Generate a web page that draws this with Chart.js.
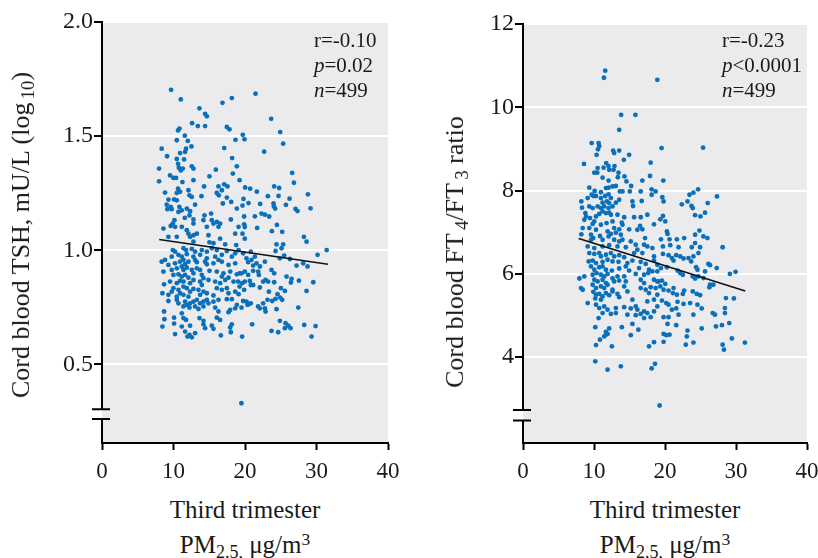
<!DOCTYPE html>
<html><head><meta charset="utf-8">
<script src="https://cdn.jsdelivr.net/npm/chart.js@4.4.0/dist/chart.umd.min.js"></script>
<style>
html,body{margin:0;padding:0;background:#fff;overflow:hidden;width:818px;height:558px;}
#wrap{position:relative;width:818px;height:558px;overflow:hidden;}
canvas{position:absolute;top:0;}
.t{position:absolute;font-family:"Liberation Serif","Times New Roman",serif;color:#1a1a1a;white-space:nowrap;}
.sub{font-size:0.72em;position:relative;top:0.28em;line-height:0;}
.sup{font-size:0.7em;position:relative;top:-0.45em;line-height:0;}
.gap{margin-left:0.18em;}
.ytitle{font-size:26px;line-height:26px;transform:translate(-50%,-50%) rotate(-90deg);}
.xtitle{font-size:25px;line-height:35px;text-align:center;transform:translateX(-50%);}
.ann{font-size:21px;line-height:25px;}
</style></head>
<body><div id="wrap">
<canvas id="c1" width="409" height="490" style="left:0;width:409px;height:490px"></canvas>
<canvas id="c2" width="425" height="490" style="left:407px;width:425px;height:490px"></canvas>
<div class="t ytitle" style="left:21px;top:235px">Cord blood TSH, mU/L (log<span class="sub gap">10</span>)</div>
<div class="t ytitle" style="left:455px;top:252px">Cord blood FT<span class="sub gap">4</span>/FT<span class="sub gap">3</span> ratio</div>
<div class="t xtitle" style="left:245px;top:492px">Third trimester<br>PM<span class="sub">2.5,</span> μg/m<span class="sup">3</span></div>
<div class="t xtitle" style="left:665px;top:492px">Third trimester<br>PM<span class="sub">2.5,</span> μg/m<span class="sup">3</span></div>
<div class="t ann" style="left:314px;top:28px">r=-0.10<br><i>p</i>=0.02<br><i>n</i>=499</div>
<div class="t ann" style="left:722px;top:28px">r=-0.23<br><i>p</i>&lt;0.0001<br><i>n</i>=499</div>
</div>
<script>
// ---- data (x = third trimester PM2.5, y = outcome) ----
const xTicks = [0, 10, 20, 30, 40];
const tshTicks = [0.5, 1.0, 1.5, 2.0];
const ratioTicks = [4, 6, 8, 10, 12];
const tshFitX = [8, 31.6];
const tshFitY = [1.047, 0.939];
const ratioFitX = [7.84, 31.3];
const ratioFitY = [6.85, 5.59];
const tshPoints = [
[9.66,1.703],[11.02,1.661],[13.63,1.622],[16.85,1.646],[18.16,1.667],[14.42,1.598],[14.66,1.587],[12.6,1.557],[13.4,1.544],[14.42,1.544],
[10.83,1.533],[10.64,1.525],[17.46,1.54],[17.83,1.53],[11.58,1.502],[18.67,1.484],[10.46,1.482],[12.0,1.479],[12.51,1.455],[8.35,1.445],
[9.1,1.412],[10.92,1.426],[11.76,1.445],[11.62,1.431],[17.09,1.448],[18.2,1.404],[10.46,1.4],[11.48,1.398],[10.64,1.379],[10.74,1.362],
[11.02,1.35],[11.3,1.358],[12.56,1.368],[12.79,1.358],[7.98,1.358],[9.52,1.328],[9.99,1.317],[10.36,1.317],[15.92,1.353],[18.86,1.368],
[18.3,1.336],[15.03,1.324],[7.98,1.302],[11.25,1.299],[12.79,1.307],[12.09,1.263],[10.64,1.27],[10.92,1.256],[14.28,1.28],[16.29,1.28],
[16.76,1.263],[16.06,1.251],[17.09,1.289],[17.55,1.28],[19.24,1.307],[8.82,1.253],[10.46,1.251],[9.29,1.222],[10.08,1.223],[10.46,1.219],
[12.23,1.241],[12.56,1.234],[13.91,1.237],[16.34,1.241],[17.46,1.231],[18.07,1.212],[9.05,1.2],[9.15,1.18],[9.61,1.19],[9.75,1.18],
[10.83,1.19],[11.16,1.175],[11.86,1.183],[12.32,1.171],[13.02,1.2],[16.9,1.205],[18.86,1.183],[10.69,1.168],[11.58,1.142],[12.23,1.153],
[12.79,1.135],[14.33,1.153],[15.26,1.161],[10.13,1.132],[9.9,1.117],[8.59,1.095],[9.61,1.107],[10.22,1.103],[11.16,1.103],[11.86,1.088],
[12.79,1.117],[14.19,1.132],[15.36,1.132],[15.59,1.117],[16.06,1.124],[16.52,1.117],[16.29,1.103],[14.66,1.103],[18.02,1.135],[19.1,1.103],
[18.63,1.073],[9.29,1.059],[10.46,1.059],[12.09,1.073],[12.32,1.059],[12.79,1.066],[13.26,1.073],[14.89,1.066],[16.52,1.051],
[21.47,1.686],[23.66,1.576],[19.69,1.506],[19.93,1.486],[24.92,1.518],[25.34,1.467],[22.68,1.432],[26.6,1.339],[26.84,1.296],[20.02,1.275],
[20.72,1.27],[21.66,1.257],[24.08,1.28],[24.78,1.273],[23.2,1.237],[24.69,1.238],[26.23,1.226],[28.8,1.245],[19.79,1.225],[19.65,1.196],
[20.49,1.207],[22.12,1.203],[23.99,1.205],[24.04,1.193],[24.22,1.183],[25.72,1.199],[27.07,1.181],[27.35,1.172],[29.17,1.184],[22.31,1.161],
[22.78,1.156],[23.38,1.148],[19.88,1.148],[21.38,1.149],[19.88,1.114],[19.97,1.102],[21.7,1.098],[24.46,1.111],[19.65,1.073],[23.76,1.084],
[25.2,1.081],[28.24,1.059],[19.97,1.051],
[12.79,1.038],[15.03,1.035],[15.59,1.031],[17.23,1.026],[18.77,1.023],[9.9,1.001],[10.22,0.994],[11.39,1.009],[11.76,1.001],[12.56,1.006],
[13.02,0.994],[13.96,1.001],[14.66,0.994],[15.36,1.009],[16.06,1.001],[17.46,0.997],[18.63,0.987],[9.75,0.972],[10.69,0.98],[11.16,0.972],
[11.86,0.983],[12.79,0.972],[13.72,0.98],[14.66,0.965],[15.83,0.972],[16.76,0.98],[18.16,0.972],[19.1,1.001],[8.35,0.95],[8.82,0.958],
[9.29,0.936],[10.22,0.943],[10.92,0.95],[11.39,0.958],[11.62,0.939],[12.09,0.95],[13.02,0.958],[13.26,0.948],[14.42,0.95],[14.66,0.939],
[15.59,0.943],[16.29,0.958],[16.76,0.95],[17.69,0.936],[18.63,0.943],[8.59,0.907],[9.75,0.914],[10.46,0.921],[11.16,0.929],[11.39,0.914],
[11.86,0.924],[12.56,0.914],[13.26,0.921],[13.72,0.914],[15.03,0.91],[16.06,0.907],[16.99,0.899],[17.93,0.907],[18.86,0.895],[9.99,0.892],
[10.69,0.895],[11.16,0.885],[11.62,0.892],[12.09,0.88],[12.79,0.899],[13.96,0.892],[14.19,0.878],[14.89,0.87],[16.76,0.885],[17.23,0.87],
[17.69,0.88],[19.24,0.899],[8.68,0.851],[9.52,0.863],[10.46,0.856],[10.92,0.866],[11.39,0.863],[12.32,0.856],[12.79,0.87],[13.72,0.863],
[13.96,0.848],[15.83,0.863],[16.52,0.856],[18.39,0.863],[9.99,0.834],[9.75,0.819],[10.69,0.827],[11.39,0.841],[11.86,0.834],[12.32,0.819],
[12.79,0.831],[13.49,0.827],[14.19,0.819],[16.06,0.834],[16.76,0.827],[17.46,0.834],[18.63,0.819],[19.24,0.841],[8.45,0.812],[9.29,0.805],
[10.46,0.797],[10.92,0.812],[11.39,0.805],[12.09,0.797],[13.72,0.805],[14.66,0.812],[15.59,0.802],[17.69,0.812],[19.1,0.808],[9.29,0.778],
[10.46,0.783],[10.69,0.768],[11.62,0.775],[11.86,0.761],[12.32,0.768],[12.79,0.775],[13.26,0.783],[13.72,0.768],[14.19,0.775],[14.66,0.783],
[14.89,0.768],[15.59,0.775],[16.29,0.783],[17.46,0.786],[18.16,0.786],[18.86,0.761],[11.39,0.754],[12.23,0.749],[13.02,0.754],[13.49,0.743],
[14.19,0.754],[15.83,0.749],[17.93,0.739],[18.63,0.746],[8.68,0.732],[11.16,0.724],[16.29,0.732],[17.69,0.729],[10.08,0.705],[11.39,0.703],
[11.76,0.695],[13.63,0.703],[14.19,0.691],[16.06,0.705],[16.52,0.695],[8.73,0.698],[10.08,0.679],[11.16,0.666],[12.32,0.67],[14.19,0.676],
[15.36,0.67],[15.59,0.656],[18.16,0.676],[17.93,0.662],[8.45,0.666],[14.42,0.659],[11.62,0.644],[13.02,0.637],[10.22,0.633],[11.95,0.622],
[12.56,0.619],[12.23,0.63],[16.62,0.627],[18.02,0.641],
[25.34,1.026],[24.41,1.026],[25.11,1.009],[24.27,0.997],[28.61,1.038],[19.74,0.987],[20.81,0.994],[20.21,0.965],[20.91,0.958],[21.38,0.972],
[20.44,0.948],[21.14,0.933],[21.61,0.943],[22.08,0.929],[22.78,0.95],[25.48,0.977],[24.88,0.965],[26.28,0.962],[27.21,0.933],[28.14,0.943],
[28.75,0.929],[30.15,0.98],[31.42,1.001],[19.51,0.899],[19.97,0.907],[20.44,0.892],[21.14,0.91],[21.84,0.907],[21.94,0.892],[23.71,0.914],
[24.08,0.899],[25.81,0.885],[26.51,0.875],[26.42,0.859],[27.54,0.867],[19.04,0.863],[19.6,0.856],[19.97,0.863],[20.67,0.866],[20.81,0.848],
[21.14,0.848],[22.08,0.837],[22.54,0.863],[22.87,0.87],[23.24,0.863],[24.08,0.86],[25.02,0.834],[25.58,0.822],[29.55,0.86],[28.61,0.822],
[19.88,0.827],[23.34,0.819],[24.55,0.808],[24.27,0.787],[24.92,0.793],[25.2,0.783],[23.8,0.778],[23.15,0.783],[22.54,0.768],[21.84,0.754],
[22.08,0.746],[22.78,0.746],[22.87,0.732],[19.74,0.778],[20.21,0.775],[20.53,0.764],[20.81,0.768],[20.35,0.761],[19.51,0.749],[24.41,0.742],
[27.45,0.749],[21.0,0.676],[24.88,0.691],[25.67,0.681],[26.05,0.67],[26.37,0.659],[25.58,0.659],[23.71,0.647],[24.64,0.641],[28.28,0.673],
[29.87,0.668],[29.31,0.622],[19.6,0.622],[19.5,0.33]
];
const ratioPoints = [
[11.58,10.88],[11.4,10.71],[18.92,10.66],[13.82,9.82],[15.83,9.82],[13.55,9.46],[9.67,9.14],[10.65,9.14],[10.74,9.07],[10.56,8.99],
[10.37,8.86],[12.7,8.96],[12.84,8.9],[13.55,8.96],[14.95,8.86],[14.2,8.74],[8.59,8.64],[11.72,8.66],[12.05,8.59],[11.35,8.55],
[10.51,8.54],[10.04,8.43],[10.46,8.43],[12.14,8.5],[12.75,8.5],[12.89,8.59],[17.98,8.67],[13.45,8.43],[11.21,8.31],[12.05,8.24],
[13.36,8.32],[14.29,8.34],[14.57,8.22],[16.81,8.24],[17.89,8.35],[15.23,8.11],[9.34,8.07],[10.09,7.99],[10.98,7.96],[11.68,8.06],
[12.05,8.07],[12.61,8.1],[13.08,8.11],[13.64,7.98],[14.01,7.98],[15.04,7.98],[16.58,7.98],[18.12,8.03],[18.68,7.98],[9.95,7.87],
[10.28,7.87],[9.67,7.9],[10.98,7.82],[11.58,7.87],[12.05,7.91],[12.38,7.82],[8.22,7.74],[9.11,7.82],[11.21,7.71],[11.82,7.74],
[12.14,7.7],[13.08,7.71],[13.55,7.78],[15.41,7.74],[16.72,7.75],[18.12,7.9],[8.31,7.59],[9.34,7.62],[9.81,7.58],[10.51,7.62],
[10.98,7.58],[11.44,7.62],[12.05,7.58],[12.61,7.62],[15.5,7.63],[11.68,7.46],[12.14,7.47],[12.38,7.42],[11.21,7.5],[8.78,7.46],
[8.88,7.38],[10.74,7.44],[13.31,7.42],[10.28,7.38],[16.58,7.36],[17.51,7.42],[14.25,7.36],[15.65,7.36],[9.44,7.34],[8.64,7.3],
[10.04,7.26],[9.81,7.2],[12.61,7.26],[13.92,7.23],[14.01,7.18],[11.77,7.22],[18.45,7.19],[16.49,7.15],[16.81,7.07],[8.41,7.1],
[9.34,7.1],[10.28,7.06],[10.98,7.18],[12.84,7.1],[13.55,7.07],[14.95,7.07],[16.11,7.06],[8.22,6.95],[9.58,6.94],[10.84,6.91],
[11.91,7.02],[12.38,6.96],[13.08,6.99],[13.78,6.94],[17.19,6.86],[9.9,6.86],[12.05,6.9],
[19.52,9.02],[25.36,9.03],[19.76,8.24],[19.62,7.84],[19.8,7.74],[24.66,8.03],[24.0,7.95],[23.45,7.9],[27.32,7.86],[23.17,7.74],
[22.37,7.67],[23.73,7.63],[23.91,7.58],[26.02,7.7],[25.64,7.47],[24.24,7.41],[24.99,7.38],[19.71,7.39],[19.34,7.31],[20.04,7.26],
[20.27,7.02],[20.36,6.96],[24.85,7.04],[24.24,6.94],[25.41,6.9],[25.97,6.86],[22.7,6.86],[21.67,6.83],[20.64,6.83],[19.43,6.83],
[9.58,6.82],[11.21,6.82],[12.84,6.82],[13.55,6.78],[14.01,6.82],[15.18,6.78],[15.88,6.7],[17.05,6.7],[17.51,6.66],[9.11,6.66],
[10.04,6.62],[11.21,6.66],[12.14,6.69],[13.31,6.66],[14.48,6.64],[16.11,6.58],[18.22,6.62],[9.34,6.5],[10.04,6.48],[10.74,6.5],
[10.98,6.42],[11.68,6.46],[12.38,6.5],[12.84,6.42],[13.55,6.45],[14.25,6.4],[15.65,6.5],[16.81,6.5],[18.45,6.42],[9.25,6.3],
[9.81,6.32],[10.28,6.26],[11.21,6.29],[11.91,6.34],[12.61,6.3],[13.45,6.29],[14.71,6.26],[15.41,6.32],[16.58,6.29],[17.28,6.24],
[18.45,6.32],[18.92,6.22],[9.58,6.18],[10.04,6.1],[10.74,6.16],[11.21,6.18],[11.68,6.1],[12.52,6.08],[13.55,6.13],[14.48,6.18],
[14.95,6.08],[16.35,6.14],[17.75,6.1],[18.22,6.06],[18.92,6.06],[7.94,5.89],[8.64,5.94],[9.81,5.98],[10.37,6.02],[10.98,5.98],
[11.44,5.94],[11.91,6.0],[13.31,5.94],[14.25,5.94],[15.88,6.0],[17.05,5.98],[17.65,6.02],[8.17,5.66],[8.41,5.62],[10.04,5.86],
[10.51,5.82],[11.21,5.86],[11.68,5.78],[12.61,5.89],[12.84,5.82],[13.55,5.84],[14.48,5.82],[16.58,5.86],[17.05,5.78],[18.45,5.86],
[18.92,5.82],[9.81,5.74],[10.28,5.66],[10.98,5.7],[11.44,5.66],[11.91,5.74],[12.61,5.62],[14.25,5.7],[16.58,5.66],[17.28,5.62],
[17.98,5.68],[18.68,5.66],[9.9,5.57],[10.28,5.5],[10.74,5.52],[11.21,5.46],[11.68,5.54],[12.14,5.49],[12.61,5.58],[13.31,5.52],
[14.71,5.58],[17.75,5.54],[18.92,5.5],[10.18,5.41],[10.98,5.38],[9.11,5.3],[13.55,5.44],[15.41,5.38],[17.51,5.34],[18.45,5.38],
[10.28,5.26],[10.74,5.18],[11.44,5.22],[11.91,5.14],[13.08,5.18],[14.25,5.2],[15.18,5.17],[15.88,5.22],[16.11,5.14],[17.05,5.1],
[17.51,5.06],[18.45,5.1],[18.92,5.22],[11.21,5.06],[12.38,5.04],[13.08,5.06],[14.71,5.02],[15.88,5.01],[16.58,5.04],[17.05,4.94],
[17.98,4.96],[10.65,4.94],[10.18,4.72],[12.14,4.69],[11.68,4.61],[11.91,4.56],[13.92,4.72],[15.41,4.8],[16.25,4.66],[10.84,4.42],
[11.44,4.5],[11.68,4.54],[10.28,4.29],[12.52,4.26],[15.18,4.53],[17.75,4.26],[18.45,4.36],[10.18,3.9],[11.91,3.7],[13.78,3.78],
[18.59,3.84],[18.12,3.73],
[24.24,6.74],[24.94,6.64],[23.77,6.64],[19.71,6.66],[20.74,6.69],[21.91,6.64],[28.12,6.64],[24.71,6.5],[19.71,6.48],[20.5,6.45],
[20.97,6.38],[21.58,6.45],[22.14,6.42],[22.61,6.37],[23.31,6.38],[23.68,6.3],[24.0,6.42],[21.21,6.32],[19.43,6.14],[20.27,6.16],
[21.77,6.08],[22.14,6.02],[22.51,5.98],[24.38,6.16],[24.57,6.1],[25.64,6.06],[26.34,6.21],[26.11,6.24],[27.28,6.14],[29.14,6.0],
[29.94,6.05],[23.91,5.94],[24.24,5.89],[24.71,5.94],[25.41,5.9],[26.34,5.74],[26.81,5.74],[26.25,5.68],[19.1,5.82],[19.57,5.84],
[20.04,5.76],[19.34,5.7],[19.8,5.62],[21.21,5.66],[20.5,5.6],[21.11,5.54],[21.67,5.5],[22.51,5.52],[22.7,5.6],[23.91,5.58],
[24.47,5.52],[24.94,5.49],[19.57,5.36],[20.18,5.3],[20.5,5.26],[21.77,5.33],[22.61,5.28],[23.54,5.3],[24.57,5.26],[25.17,5.17],
[28.58,5.42],[29.7,5.41],[20.97,5.14],[21.58,5.17],[21.91,5.02],[24.0,5.02],[26.72,5.06],[27.04,5.02],[28.44,5.06],[28.44,5.18],
[19.8,4.96],[20.5,4.96],[20.36,4.8],[21.58,4.77],[25.17,4.69],[27.18,4.74],[28.02,4.77],[29.05,4.82],[23.17,4.64],[19.8,4.56],
[20.18,4.53],[20.64,4.54],[23.07,4.5],[29.42,4.45],[19.8,4.37],[22.93,4.3],[24.0,4.35],[28.12,4.3],[28.3,4.18],[31.25,4.35],
[19.24,2.84]
];

// ---- drawing ----
const BG = '#EBEBEE';
const DOT = '#0B70BA';
const FONT = '"Liberation Serif","Times New Roman",serif';

const bgPlugin = {
  id: 'panelBg',
  beforeDraw(chart) {
    const {ctx, chartArea: a} = chart;
    ctx.save();
    ctx.fillStyle = BG;
    ctx.fillRect(a.left, a.top, a.right - a.left, a.bottom - a.top);
    ctx.restore();
  }
};
const breakPlugin = {
  id: 'axisBreak',
  afterDraw(chart, args, opts) {
    const {ctx, chartArea: a} = chart;
    const ys = chart.scales.y;
    const y1 = ys.getPixelForValue(opts.hi), y2 = ys.getPixelForValue(opts.lo);
    const x0 = a.left;
    ctx.save();
    ctx.fillStyle = '#fff';
    ctx.fillRect(x0 - 2, y1, 2, y2 - y1);
    ctx.fillStyle = BG;
    ctx.fillRect(x0, y1, 2, y2 - y1);
    ctx.strokeStyle = '#000';
    ctx.lineWidth = 2;
    ctx.beginPath();
    ctx.moveTo(x0 - 10, y1); ctx.lineTo(x0 + 8, y1);
    ctx.moveTo(x0 - 10, y2); ctx.lineTo(x0 + 8, y2);
    ctx.stroke();
    ctx.restore();
  }
};

function makeChart(id, pts, fitX, fitY, yMin, yMax, yTicks, brk, pad, yWidth, fmt) {
  return new Chart(document.getElementById(id), {
    type: 'scatter',
    data: {
      datasets: [
        {
          type: 'line',
          data: fitX.map((x, i) => ({x, y: fitY[i]})),
          borderColor: '#111', borderWidth: 1.6, pointRadius: 0, fill: false, order: 1
        },
        {
          type: 'scatter',
          data: pts.map(p => ({x: p[0], y: p[1]})),
          pointRadius: 2.4, pointBackgroundColor: DOT, pointBorderWidth: 0, order: 2
        }
      ]
    },
    options: {
      responsive: false, animation: false, events: [],
      layout: {padding: pad},
      plugins: {legend: {display: false}, tooltip: {enabled: false}, axisBreak: brk},
      scales: {
        x: {
          type: 'linear', min: 0, max: 40,
          afterBuildTicks: s => { s.ticks = xTicks.map(v => ({value: v})); },
          afterFit: s => { s.height = 47; },
          ticks: {color: '#1a1a1a', font: {family: FONT, size: 23}, padding: 8, maxRotation: 0},
          grid: {drawOnChartArea: false, drawTicks: true, tickLength: 7, tickColor: '#000', tickWidth: 2},
          border: {display: true, color: '#000', width: 2}
        },
        y: {
          type: 'linear', min: yMin, max: yMax,
          afterBuildTicks: s => { s.ticks = yTicks.map(v => ({value: v})); },
          afterFit: s => { s.width = yWidth; },
          ticks: {color: '#1a1a1a', font: {family: FONT, size: 24}, padding: 1, callback: fmt},
          grid: {color: '#fff', lineWidth: 2, drawTicks: true, tickLength: 8, tickColor: '#000', tickWidth: 2},
          border: {display: true, color: '#000', width: 2}
        }
      }
    },
    plugins: [bgPlugin, breakPlugin]
  });
}

makeChart('c1', tshPoints, tshFitX, tshFitY, 0.156, 2.0, tshTicks, {lo: 0.261, hi: 0.304},
  {left: 0, top: 22, right: 21, bottom: 0}, 102, v => Number(v).toFixed(1));
makeChart('c2', ratioPoints, ratioFitX, ratioFitY, 1.94, 12, ratioTicks, {lo: 2.48, hi: 2.735},
  {left: 0, top: 24, right: 25, bottom: 0}, 116, v => String(v));
</script>
</body></html>
